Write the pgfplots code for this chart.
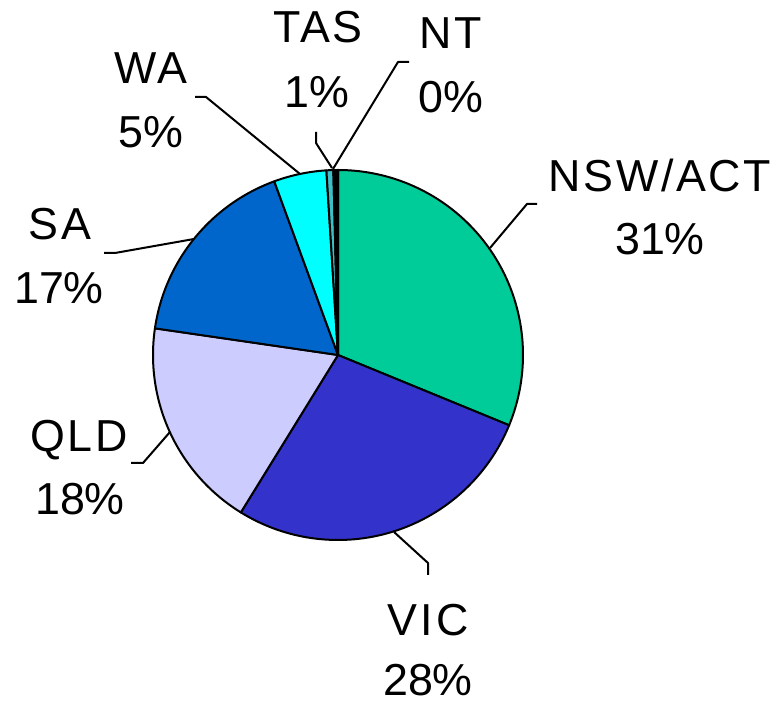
\documentclass[border=0pt]{standalone}
\usepackage{fontspec}
\setmainfont{Liberation Sans}
\newfontfamily\labfont[LetterSpace=6]{Liberation Sans}
\usepackage{pgfplots}
\pgfplotsset{compat=1.18}
\definecolor{cNSW}{HTML}{00CC99}
\definecolor{cVIC}{HTML}{3333CC}
\definecolor{cQLD}{HTML}{CCCCFF}
\definecolor{cSA}{HTML}{0066CC}
\definecolor{cWA}{HTML}{00FFFF}
\definecolor{cTAS}{HTML}{3DBFC8}
\definecolor{cNT}{HTML}{000000}
\begin{document}
\begin{tikzpicture}
% shares in percent
\def\pNSW{31.2}\def\pVIC{27.6}\def\pQLD{18.5}\def\pSA{17.1}\def\pWA{4.6}\def\pTAS{0.6}\def\pNT{0.4}
\pgfmathsetmacro\aA{90}
\pgfmathsetmacro\aB{\aA-3.6*\pNSW}
\pgfmathsetmacro\aC{\aB-3.6*\pVIC}
\pgfmathsetmacro\aD{\aC-3.6*\pQLD}
\pgfmathsetmacro\aE{\aD-3.6*\pSA}
\pgfmathsetmacro\aF{\aE-3.6*\pWA}
\pgfmathsetmacro\aG{\aF-3.6*\pTAS}
\pgfmathsetmacro\aH{\aG-3.6*\pNT}
\useasboundingbox (0,0) rectangle (392pt,353pt);
\begin{axis}[
  width=392pt, height=353pt, scale only axis,
  xmin=0, xmax=784, ymin=0, ymax=706,
  hide axis, clip=false,
  every axis plot/.append style={line join=round},
  nodes={font=\fontsize{22.4}{26}\selectfont, anchor=base, inner sep=0pt},
]
\pgfplotsset{pie/.style={draw=black, line width=1pt, samples=120, forget plot}}
\addplot[pie, fill=cNSW, domain=\aB:\aA] ({338+185*cos(x)},{351+185*sin(x)}) -- (338,351) -- cycle;
\addplot[pie, fill=cVIC, domain=\aC:\aB] ({338+185*cos(x)},{351+185*sin(x)}) -- (338,351) -- cycle;
\addplot[pie, fill=cQLD, domain=\aD:\aC] ({338+185*cos(x)},{351+185*sin(x)}) -- (338,351) -- cycle;
\addplot[pie, fill=cSA, domain=\aE:\aD] ({338+185*cos(x)},{351+185*sin(x)}) -- (338,351) -- cycle;
\addplot[pie, fill=cWA, domain=\aF:\aE] ({338+185*cos(x)},{351+185*sin(x)}) -- (338,351) -- cycle;
\addplot[pie, fill=cTAS, domain=\aG:\aF] ({338+185*cos(x)},{351+185*sin(x)}) -- (338,351) -- cycle;
\addplot[pie, fill=cNT, domain=\aH:\aG] ({338+185*cos(x)},{351+185*sin(x)}) -- (338,351) -- cycle;
% leader lines
\addplot[black, line width=1pt] coordinates {(490,458) (527,502) (537,502)};
\addplot[black, line width=1pt] coordinates {(333,537) (398,644) (409,644)};
\addplot[black, line width=1pt] coordinates {(332,538) (316,563) (316,574)};
\addplot[black, line width=1pt] coordinates {(300,532) (206,609) (195,609)};
\addplot[black, line width=1pt] coordinates {(194,467) (115,453) (104,453)};
\addplot[black, line width=1pt] coordinates {(170,274) (143,243) (131,243)};
\addplot[black, line width=1pt] coordinates {(394,174) (428,143) (428,131)};
% labels
\node at (axis cs:660,514) {\labfont NSW/ACT};
\node at (axis cs:660,451) {31\%};
\node at (axis cs:451,657) {\labfont NT};
\node at (axis cs:451,593) {0\%};
\node at (axis cs:318,663) {\labfont TAS};
\node at (axis cs:317,598) {1\%};
\node at (axis cs:151,622) {\labfont WA};
\node at (axis cs:151,558) {5\%};
\node at (axis cs:60,466) {\labfont SA};
\node at (axis cs:59,402) {17\%};
\node at (axis cs:79,254) {\labfont QLD};
\node at (axis cs:80,191) {18\%};
\node at (axis cs:428,70) {\labfont V\hspace{0.08em}I\hspace{0.08em}C};
\node at (axis cs:428,10) {28\%};
\end{axis}
\end{tikzpicture}
\end{document}
